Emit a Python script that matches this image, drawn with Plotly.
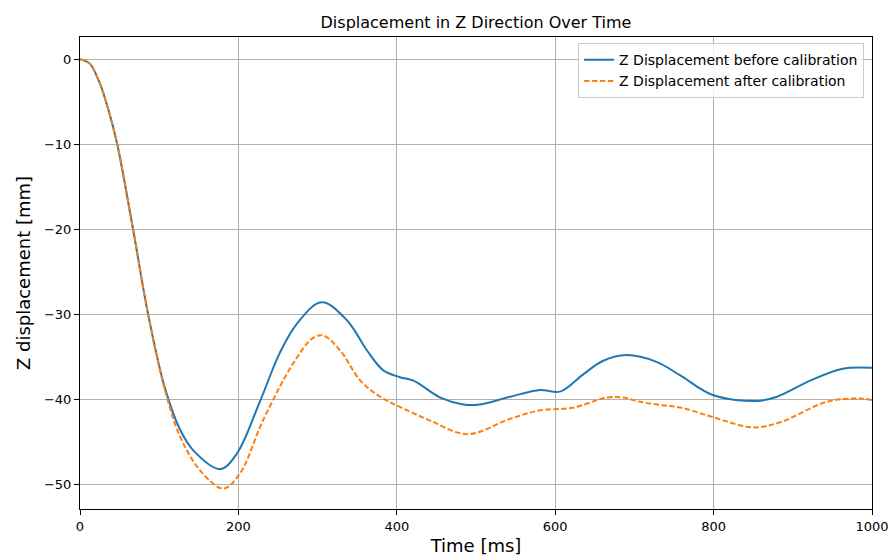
import plotly.graph_objects as go

# Time samples [ms]
time_ms = [0, 12, 24, 36, 47, 67, 86, 107, 126, 143, 177, 198, 227, 252, 274, 305,
           337, 362, 383, 404, 421, 455, 484, 505, 543, 581, 606, 635, 660, 690,
           728, 758, 799, 855, 880, 922, 963, 1000]

# Z displacement before calibration [mm]
z_before = [0, -0.5, -2.6, -6.0, -10, -20, -30, -38.6, -43.5, -46.0, -48.2, -46.4, -40.3,
            -34.6, -31.1, -28.6, -30.7, -34.2, -36.6, -37.4, -37.8, -39.8, -40.6, -40.6,
            -39.7, -38.9, -39.1, -37.1, -35.5, -34.8, -35.6, -37.2, -39.5, -40.2,
            -39.7, -37.8, -36.4, -36.3]

# Time samples for the calibrated series [ms]
time_after = [0, 12, 24, 36, 47, 67, 86, 107, 126, 152, 181, 202, 231, 269, 294,
              307, 328, 354, 379, 404, 442, 489, 543, 581, 622, 665, 686, 707, 735, 760,
              799, 850, 884, 943, 985, 1000]

# Z displacement after calibration [mm]
z_after = [0, -0.5, -2.6, -6.0, -10, -20, -30, -38.8, -44.3, -48.4, -50.5, -48.7, -42.5,
           -35.8, -32.8, -32.5, -34.2, -37.8, -39.7, -40.9, -42.5, -44.1, -42.3,
           -41.3, -41.0, -39.8, -39.8, -40.3, -40.7, -41.0, -42.1, -43.3, -42.7, -40.3,
           -39.9, -40.1]

x_ticks = [0, 200, 400, 600, 800, 1000]
y_ticks = [0, -10, -20, -30, -40, -50]

FONT = "DejaVu Sans"

fig = go.Figure()
fig.add_trace(go.Scatter(
    x=time_ms, y=z_before, mode="lines",
    name="Z Displacement before calibration",
    line=dict(color="#1f77b4", width=2, shape="spline", smoothing=1.0),
))
fig.add_trace(go.Scatter(
    x=time_after, y=z_after, mode="lines",
    name="Z Displacement after calibration",
    line=dict(color="#ff7f0e", width=2, dash="5.5px,2.4px", shape="spline", smoothing=1.0),
))

axis_common = dict(
    showline=True, linecolor="black", linewidth=1, mirror=True,
    showgrid=True, gridcolor="#b0b0b0", gridwidth=1,
    ticks="outside", ticklen=5, tickcolor="black",
    tickfont=dict(family=FONT, size=13, color="black"),
    zeroline=False, automargin=False,
)

fig.update_layout(
    width=890, height=558,
    margin=dict(l=80, r=18, t=37, b=49, autoexpand=False),
    paper_bgcolor="white", plot_bgcolor="white",
    font=dict(family=FONT, color="black"),
    title=dict(text="Displacement in Z Direction Over Time", xref="paper", x=0.5,
               xanchor="center", yref="container", y=0.96, yanchor="middle",
               font=dict(family=FONT, size=16, color="black")),
    xaxis=dict(range=[0, 1000], tickvals=x_ticks,
               title=dict(text="Time [ms]", font=dict(family=FONT, size=18), standoff=6),
               **axis_common),
    yaxis=dict(range=[-52.9, 2.6], tickvals=y_ticks,
               title=dict(text="Z displacement [mm]", font=dict(family=FONT, size=18), standoff=8),
               **axis_common),
    legend=dict(x=0.99, y=0.987, xanchor="right", yanchor="top",
                bgcolor="rgba(255,255,255,0.8)", bordercolor="#cccccc", borderwidth=1,
                font=dict(family=FONT, size=14, color="black"),
                itemwidth=30, tracegroupgap=0),
    showlegend=True,
)

fig.write_html("out.html")
